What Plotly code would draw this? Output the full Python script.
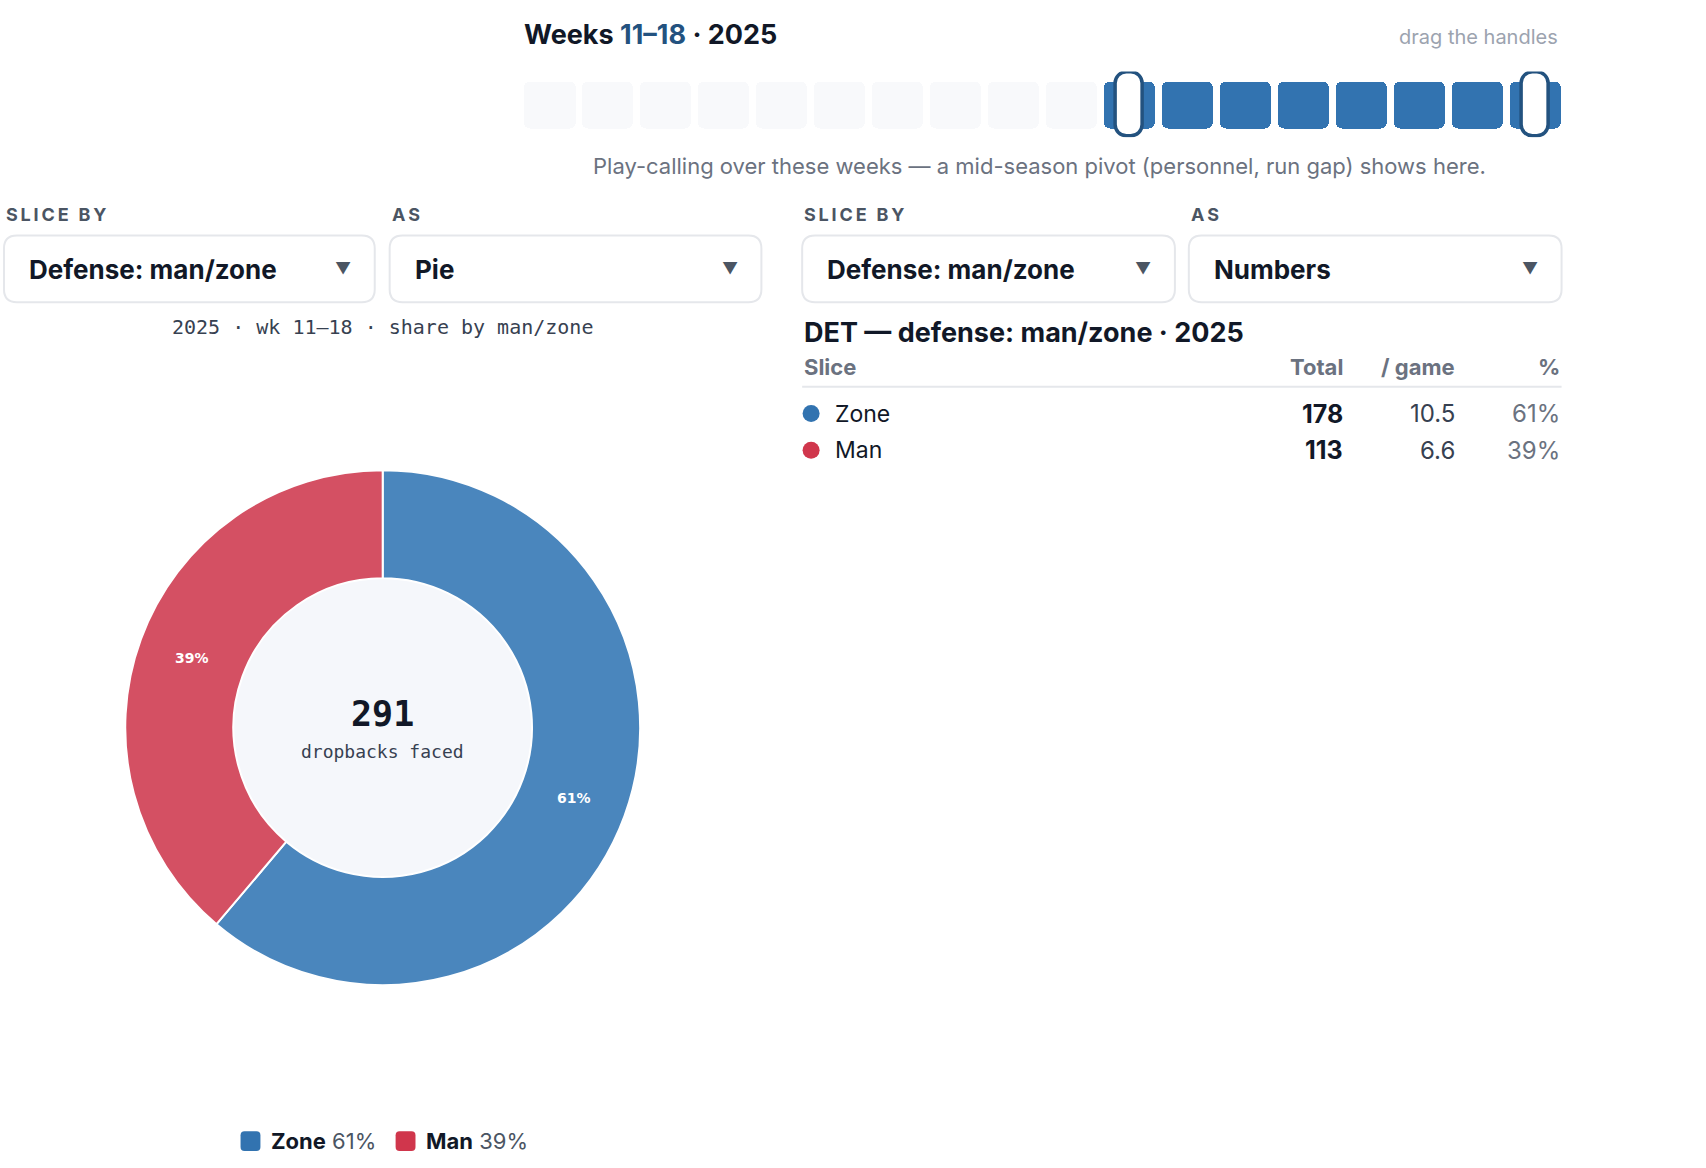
import plotly.graph_objects as go

# ---- data ----
season = 2025
team = "DET"
weeks = list(range(1, 19))
week_start = 11
week_end = 18

slices = ["Zone", "Man"]
totals = [178, 113]
per_game = [10.5, 6.6]
center_label = "dropbacks faced"

control_labels = ["SLICE BY", "AS", "SLICE BY", "AS"]
control_values = ["Defense: man/zone", "Pie", "Defense: man/zone", "Numbers"]
table_headers = ["Slice", "Total", "/ game", "%"]

# ---- styles ----
W, H = 1706, 1168
S = 0.994  # layout coords below are in "design px", squeezed a touch to fit
UI = "Inter, 'Noto Sans', sans-serif"
MONO = "'DejaVu Sans Mono', monospace"
INK = "#111827"
GRAY = "#6b7280"
DARK_BLUE = "#23527f"
solid_colors = ["#3273b0", "#d0364c"]
pie_colors = ["#4a86bd", "#d45063"]

grand_total = sum(totals)
pcts = [round(t / grand_total * 100) for t in totals]


def rrect(x0, y0, x1, y1, r):
    return (f"M{x0+r},{y0} L{x1-r},{y0} Q{x1},{y0} {x1},{y0+r} L{x1},{y1-r} "
            f"Q{x1},{y1} {x1-r},{y1} L{x0+r},{y1} Q{x0},{y1} {x0},{y1-r} "
            f"L{x0},{y0+r} Q{x0},{y0} {x0+r},{y0} Z")


def spaced(s):
    # fake letter-spacing with thin spaces
    return "\u2009".join(s)


fig = go.Figure()

# week strip
in_range = [week_start <= w <= week_end for w in weeks]
fig.add_trace(go.Bar(
    x=weeks, y=[1] * len(weeks), base=0, width=0.88,
    marker=dict(color=["#3273b0" if s else "#f8f9fb" for s in in_range],
                cornerradius=6, line=dict(width=0)),
    xaxis="x2", yaxis="y2", hoverinfo="skip", showlegend=False))
fig.add_trace(go.Bar(
    x=[week_start, week_end], y=[1.36, 1.36], base=-0.17, width=0.46,
    marker=dict(color="white", cornerradius=12, line=dict(color=DARK_BLUE, width=3.5)),
    xaxis="x2", yaxis="y2", hoverinfo="skip", showlegend=False))

# donut
fig.add_trace(go.Pie(
    labels=slices, values=totals, hole=0.58, sort=False, direction="clockwise",
    rotation=0, marker=dict(colors=pie_colors, line=dict(color="white", width=2)),
    texttemplate="<b>%{percent:.0%}</b>", textposition="inside",
    insidetextorientation="horizontal",
    textfont=dict(color="white", size=14, family="'DejaVu Sans', sans-serif"),
    domain=dict(x=[126 * S / W, 644 * S / W], y=[1 - 991 * S / H, 1 - 473 * S / H]),
    showlegend=False, hoverinfo="label+value+percent"))

# table dots
row_y = [416, 453]
fig.add_trace(go.Scatter(x=[816] * len(slices), y=row_y, mode="markers",
                         marker=dict(size=17, color=solid_colors),
                         hoverinfo="skip", showlegend=False))

shapes = []
ann = []

# donut hole fill
shapes.append(dict(type="circle", xref="x", yref="y", x0=385 - 150, x1=385 + 150,
                   y0=732 - 150, y1=732 + 150, fillcolor="#f5f7fb",
                   line=dict(width=0), layer="below"))

# header
ann.append(dict(x=525, y=35, xanchor="left", yanchor="middle",
                text=f"<b>Weeks <span style='color:{DARK_BLUE}'>{week_start}–{week_end}</span> · {season}</b>",
                font=dict(size=27, color=INK, family=UI)))
ann.append(dict(x=1569, y=37, xanchor="right", yanchor="middle", text="drag the handles",
                font=dict(size=20, color="#9ca3af", family=UI)))
ann.append(dict(x=1046, y=167, xanchor="center", yanchor="middle",
                text="Play-calling over these weeks — a mid-season pivot (personnel, run gap) shows here.",
                font=dict(size=22, color=GRAY, family=UI)))

# controls
box_x = [(4, 377), (392, 766), (807, 1182), (1196, 1571)]
for (x0, x1), lab, val in zip(box_x, control_labels, control_values):
    ann.append(dict(x=x0, y=216, xanchor="left", yanchor="middle", text=f"<b>{spaced(lab)}</b>",
                    font=dict(size=18, color="#4b5563", family=UI)))
    shapes.append(dict(type="path", xref="x", yref="y", path=rrect(x0, 237, x1, 304, 13),
                       fillcolor="white", line=dict(color="#e5e7eb", width=2)))
    ann.append(dict(x=x0 + 23, y=271, xanchor="left", yanchor="middle", text=f"<b>{val}</b>",
                    font=dict(size=26, color=INK, family=UI)))
    ann.append(dict(x=x1 - 32, y=270, xanchor="center", yanchor="middle", text="▼",
                    font=dict(size=16, color="#4b5563", family=UI)))

ann.append(dict(x=385, y=329, xanchor="center", yanchor="middle",
                text=f"{season} · wk {week_start}–{week_end} · share by man/zone",
                font=dict(size=20, color="#374151", family=MONO)))

# donut center
ann.append(dict(x=385, y=718, xanchor="center", yanchor="middle", text=f"<b>{grand_total}</b>",
                font=dict(size=35, color=INK, family=MONO)))
ann.append(dict(x=385, y=756, xanchor="center", yanchor="middle", text=center_label,
                font=dict(size=18, color="#374151", family=MONO)))

# table
ann.append(dict(x=807, y=334, xanchor="left", yanchor="middle",
                text=f"<b>{team} — defense: man/zone · {season}</b>",
                font=dict(size=27, color=INK, family=UI)))
col_x = [807, 1353, 1466, 1571]
col_anchor = ["left", "right", "right", "right"]
for cx, ca, h in zip(col_x, col_anchor, table_headers):
    ann.append(dict(x=cx, y=369, xanchor=ca, yanchor="middle", text=f"<b>{h}</b>",
                    font=dict(size=22, color=GRAY, family=UI)))
shapes.append(dict(type="line", xref="x", yref="y", x0=807, x1=1571, y0=389, y1=389,
                   line=dict(color="#e5e7eb", width=2)))
for ry, name, tot, pg, pc in zip(row_y, slices, totals, per_game, pcts):
    ann.append(dict(x=838, y=ry, xanchor="left", yanchor="middle", text=name,
                    font=dict(size=23, color=INK, family=UI)))
    ann.append(dict(x=1353, y=ry, xanchor="right", yanchor="middle", text=f"<b>{tot}</b>",
                    font=dict(size=25, color=INK, family=UI)))
    ann.append(dict(x=1466, y=ry, xanchor="right", yanchor="middle", text=f"{pg:.1f}",
                    font=dict(size=24, color="#374151", family=UI)))
    ann.append(dict(x=1571, y=ry, xanchor="right", yanchor="middle", text=f"{pc}%",
                    font=dict(size=24, color=GRAY, family=UI)))

# legend: rounded swatches + text
leg_x = [252, 408]
for lx, name, pc, col in zip(leg_x, slices, pcts, solid_colors):
    shapes.append(dict(type="path", xref="x", yref="y",
                       path=rrect(lx - 10, 1138, lx + 10, 1158, 4),
                       fillcolor=col, line=dict(width=0)))
    ann.append(dict(x=lx + 19, y=1148, xanchor="left", yanchor="middle",
                    text=f"<b>{name}</b> <span style='color:#4b5563'>{pc}%</span>",
                    font=dict(size=22, color=INK, family=UI)))

for a in ann:
    a.update(xref="x", yref="y", showarrow=False)

fig.update_layout(
    width=W, height=H, margin=dict(l=0, r=0, t=0, b=0),
    paper_bgcolor="white", plot_bgcolor="rgba(0,0,0,0)",
    barmode="overlay", bargap=0,
    xaxis=dict(range=[0, W / S], domain=[0, 1], visible=False, fixedrange=True),
    yaxis=dict(range=[H / S, 0], domain=[0, 1], visible=False, fixedrange=True),
    xaxis2=dict(range=[0.5, 18.5], domain=[524 * S / W, 1574 * S / W], visible=False,
                fixedrange=True, anchor="y2"),
    yaxis2=dict(range=[-0.191, 1.213], domain=[1 - 138 * S / H, 1 - 72 * S / H], visible=False,
                fixedrange=True, anchor="x2"),
    shapes=shapes, annotations=ann, font=dict(family=UI),
)

fig.write_html("out.html", config={"displayModeBar": False},
               post_script="document.body.style.margin='0';")
